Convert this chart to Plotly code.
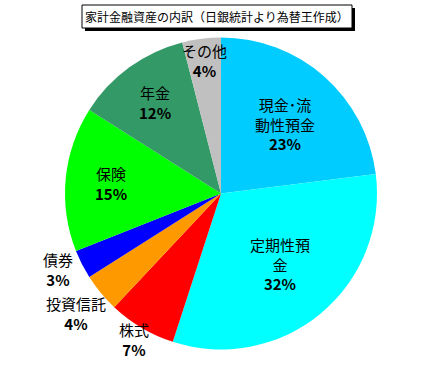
import math
import plotly.graph_objects as go

W, H = 421, 374

# Data
categories = ["現金･流動性預金", "定期性預金", "株式", "投資信託", "債券", "保険", "年金", "その他"]
label_lines = ["現金･流<br>動性預金", "定期性預<br>金", "株式", "投資信託", "債券", "保険", "年金", "その他"]
values = [23, 32, 7, 4, 3, 15, 12, 4]
colors = ["#00CCFF", "#00FFFF", "#FF0000", "#FF9900", "#0000FF", "#00FF00", "#339966", "#C0C0C0"]
# label placement style: radial fraction and small vertical nudge (px, up positive)
label_radius = [0.62, 0.59, 1.09, 1.21, 1.17, 0.71, 0.72, 0.86]
label_nudge = [-3, 0, 0, 0, 7, 0, 0, 0]

title_text = "家計金融資産の内訳（日銀統計より為替王作成）"
FONT = "Noto Sans CJK JP"

# Pie geometry (pixels)
cx_px, cy_px_top, r_px = 221, 193.5, 156
dom_x = [(cx_px - r_px) / W, (cx_px + r_px) / W]
cy_px = H - cy_px_top
dom_y = [(cy_px - r_px) / H, (cy_px + r_px) / H]

fig = go.Figure(go.Pie(
    labels=categories,
    values=values,
    sort=False,
    direction="clockwise",
    rotation=0,
    marker=dict(colors=colors, line=dict(width=0)),
    textinfo="none",
    hoverinfo="label+percent",
    showlegend=False,
    domain=dict(x=dom_x, y=dom_y),
))

total = sum(values)
cum = 0
annotations = []
for lab, v, f, nd in zip(label_lines, values, label_radius, label_nudge):
    mid = (cum + v / 2) / total * 2 * math.pi
    cum += v
    px = cx_px + f * r_px * math.sin(mid)
    py = cy_px + f * r_px * math.cos(mid) + nd
    annotations.append(dict(
        x=px / W, y=py / H, xref="paper", yref="paper",
        text=f"{lab}<br><b>{v}%</b>", showarrow=False,
        font=dict(family=FONT, size=15, color="black"),
        xanchor="center", yanchor="middle", align="center",
    ))

# Title box with drop shadow
bx0, bx1, by0, by1 = 82, 352, 5, 28
shapes = [
    dict(type="rect", xref="paper", yref="paper",
         x0=(bx0 + 3) / W, x1=(bx1 + 3) / W, y0=(H - by1 - 3) / H, y1=(H - by0 - 3) / H,
         fillcolor="black", line=dict(width=0), layer="above"),
    dict(type="rect", xref="paper", yref="paper",
         x0=bx0 / W, x1=bx1 / W, y0=(H - by1) / H, y1=(H - by0) / H,
         fillcolor="white", line=dict(color="black", width=1), layer="above"),
]
annotations.append(dict(
    x=(bx0 + bx1) / 2 / W, y=(H - (by0 + by1) / 2) / H, xref="paper", yref="paper",
    text=title_text, showarrow=False,
    font=dict(family=FONT, size=12, color="black"),
    xanchor="center", yanchor="middle",
))

fig.update_layout(
    width=W, height=H,
    margin=dict(l=0, r=0, t=0, b=0),
    paper_bgcolor="white", plot_bgcolor="white",
    shapes=shapes, annotations=annotations,
)

fig.write_html("out.html", config={"displayModeBar": False},
               post_script="document.body.style.margin='0';")
